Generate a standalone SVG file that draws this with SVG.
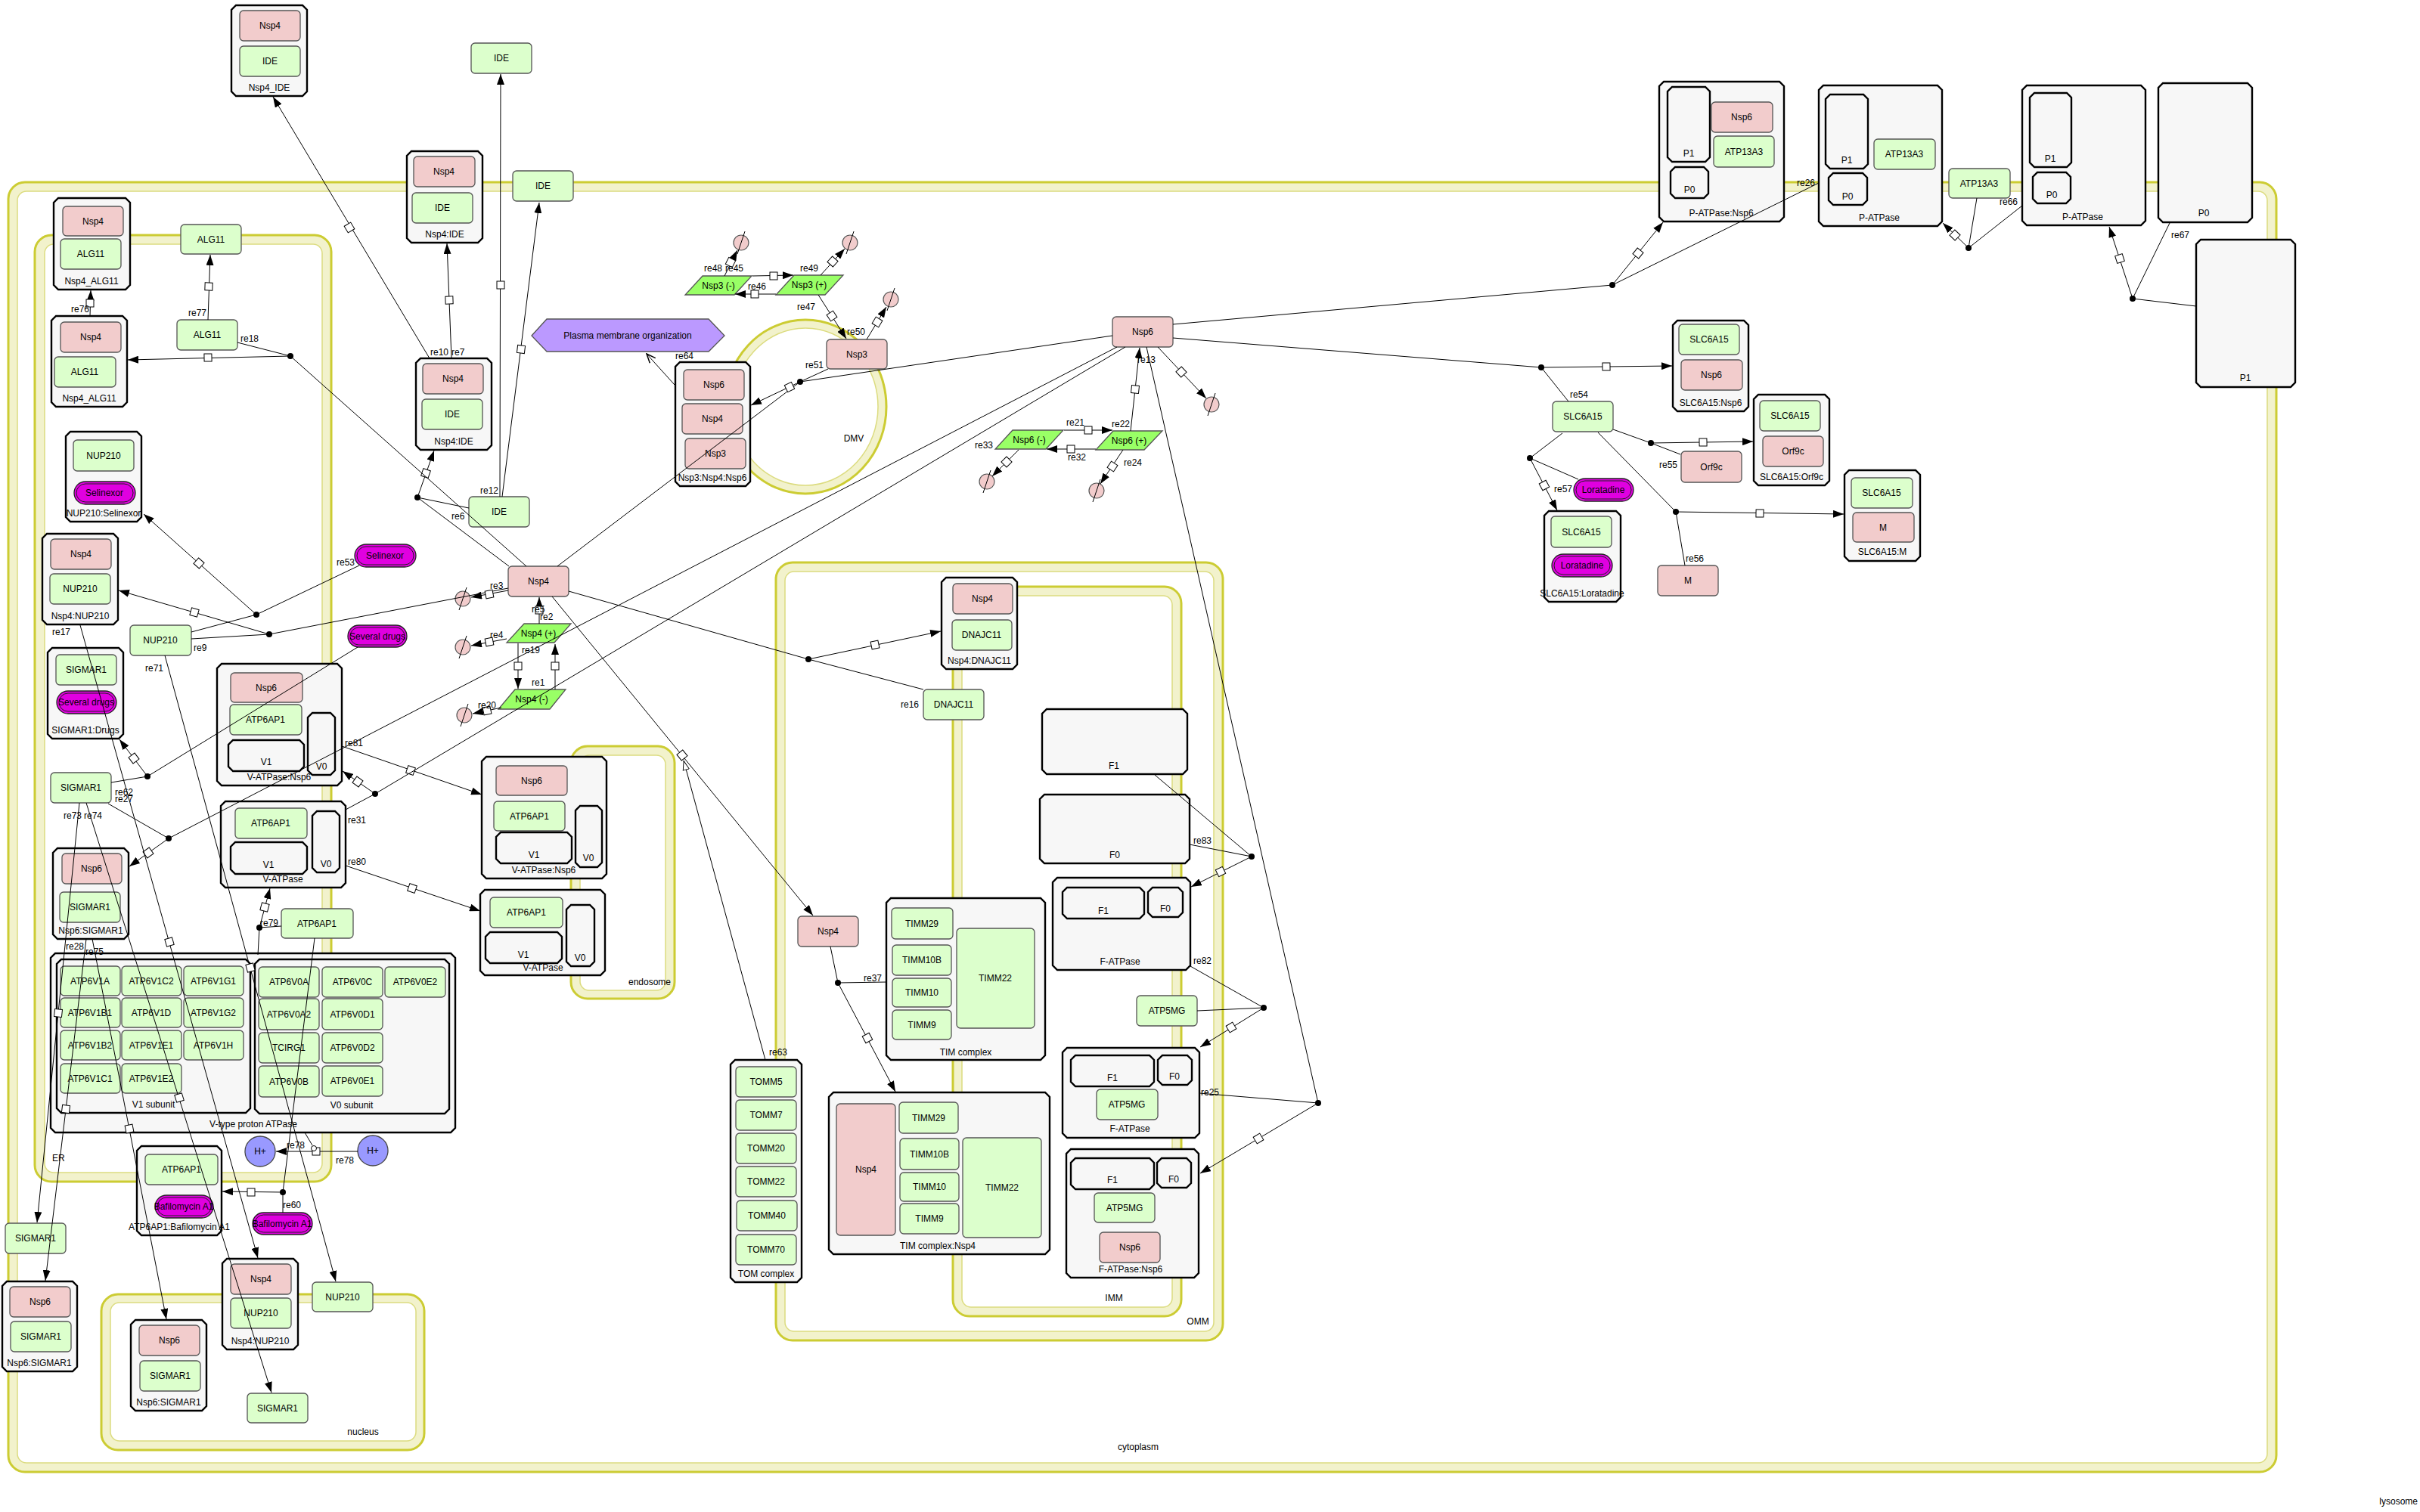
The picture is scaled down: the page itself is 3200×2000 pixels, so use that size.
<svg xmlns="http://www.w3.org/2000/svg" width="3200" height="2000" viewBox="0 0 3200 2000">
<style>
text{font-family:"Liberation Sans",Arial,sans-serif;font-size:12px;fill:#000;stroke:none}
.t{text-anchor:middle}
.co{fill:#f2f2cc;stroke:#cccc33;stroke-width:3}
.ci{fill:#fff;stroke:#dcdc80;stroke-width:1.5}
.cx{fill:#f7f7f7;stroke:#000;stroke-width:2.4}
.p{fill:#dcffcc;stroke:#555;stroke-width:1.3}
.v{fill:#f2cccc;stroke:#555;stroke-width:1.3}
.d{fill:#e000e0;stroke:#222;stroke-width:1.3}
.di{fill:none;stroke:#222;stroke-width:1}
.r{fill:#99ff66;stroke:#555;stroke-width:1.3}
.ph{fill:#bb99ff;stroke:#555;stroke-width:1.3}
.ion{fill:#9999ff;stroke:#444;stroke-width:1.3}
.dg{fill:#f2cccc;stroke:#555;stroke-width:1.2}
.sl{stroke:#000;stroke-width:1}
.dot{fill:#000;stroke:none}
</style>
<defs>
<marker id="ar" viewBox="0 0 14 10" refX="14" refY="5" markerWidth="14" markerHeight="10" markerUnits="userSpaceOnUse" orient="auto"><path d="M0,0L14,5L0,10z" fill="#000" stroke="none"/></marker>
<marker id="oa" viewBox="0 0 14 12" refX="13" refY="6" markerWidth="14" markerHeight="12" markerUnits="userSpaceOnUse" orient="auto"><path d="M1,1L13,6L1,11" fill="none" stroke="#000" stroke-width="1.5"/></marker>
<marker id="ht" viewBox="0 0 14 10" refX="14" refY="5" markerWidth="13" markerHeight="10" markerUnits="userSpaceOnUse" orient="auto"><path d="M0.5,0.5L13.5,5L0.5,9.5z" fill="#fff" stroke="#000" stroke-width="1"/></marker>
<rect id="sq" x="-5" y="-5" width="10" height="10" fill="#fff" stroke="#000" stroke-width="1"/>
</defs>
<rect width="3200" height="2000" fill="#fff"/>

<g id="compartments">
<g id="cytoplasm"><rect class="co" x="11" y="241" width="2999" height="1706" rx="22"/><rect class="ci" x="23" y="253" width="2975" height="1682" rx="12"/><text class="t" x="1505" y="1918">cytoplasm</text></g>
<g id="ER"><rect class="co" x="46" y="311" width="392" height="1252" rx="22"/><rect class="ci" x="59" y="323" width="367" height="1228" rx="12"/><text x="69" y="1536">ER</text></g>
<g id="nucleus"><rect class="co" x="134" y="1712" width="427" height="206" rx="22"/><rect class="ci" x="146" y="1723" width="404" height="183" rx="12"/><text class="t" x="480" y="1898">nucleus</text></g>
<g id="endosome"><rect class="co" x="755" y="987" width="137" height="334" rx="22"/><rect class="ci" x="767" y="999" width="113" height="311" rx="12"/><text class="t" x="859" y="1303">endosome</text></g>
<g id="OMM"><rect class="co" x="1026" y="744" width="591" height="1029" rx="22"/><rect class="ci" x="1038" y="756" width="567" height="1005" rx="12"/><text class="t" x="1584" y="1752">OMM</text></g>
<g id="IMM"><rect class="co" x="1260" y="776" width="302" height="965" rx="22"/><rect class="ci" x="1272" y="788" width="278" height="941" rx="12"/><text class="t" x="1473" y="1721">IMM</text></g>
<g id="DMV"><ellipse class="co" cx="1065" cy="538" rx="107" ry="115"/><ellipse class="ci" cx="1065" cy="538" rx="96" ry="104"/><text class="t" x="1129" y="584">DMV</text></g>
<text id="lysosome" x="3197" y="1990" text-anchor="end">lysosome</text>
</g>

<g id="nodes">
<g id="c_nsp4_ide"><path class="cx" d="M312,7h88l6,6v108l-6,6h-88l-6,-6v-108z"/><rect class="v" x="317" y="14" width="80" height="40" rx="5"/><text class="t" x="357" y="38">Nsp4</text><rect class="p" x="317" y="61" width="80" height="40" rx="5"/><text class="t" x="357" y="85">IDE</text><text class="t" x="356" y="120">Nsp4_IDE</text></g>
<g id="n_ide_top"><rect class="p" x="623" y="57" width="80" height="40" rx="5"/><text class="t" x="663" y="81">IDE</text></g>
<g id="c_nsp4ide_up"><path class="cx" d="M544,200h88l6,6v109l-6,6h-88l-6,-6v-109z"/><rect class="v" x="547" y="207" width="81" height="40" rx="5"/><text class="t" x="587" y="231">Nsp4</text><rect class="p" x="545" y="255" width="80" height="40" rx="5"/><text class="t" x="585" y="279">IDE</text><text class="t" x="588" y="314">Nsp4:IDE</text></g>
<g id="n_ide_right"><rect class="p" x="678" y="226" width="80" height="40" rx="5"/><text class="t" x="718" y="250">IDE</text></g>
<g id="c_nsp4alg11_up"><path class="cx" d="M77,262h89l6,6v109l-6,6h-89l-6,-6v-109z"/><rect class="v" x="83" y="273" width="80" height="39" rx="5"/><text class="t" x="123" y="297">Nsp4</text><rect class="p" x="80" y="316" width="80" height="40" rx="5"/><text class="t" x="120" y="340">ALG11</text><text class="t" x="121" y="376">Nsp4_ALG11</text></g>
<g id="n_alg11_top"><rect class="p" x="239" y="297" width="80" height="39" rx="5"/><text class="t" x="279" y="321">ALG11</text></g>
<g id="c_nsp4alg11_low"><path class="cx" d="M74,418h88l6,6v108l-6,6h-88l-6,-6v-108z"/><rect class="v" x="80" y="426" width="80" height="40" rx="5"/><text class="t" x="120" y="450">Nsp4</text><rect class="p" x="72" y="472" width="81" height="40" rx="5"/><text class="t" x="112" y="496">ALG11</text><text class="t" x="118" y="531">Nsp4_ALG11</text></g>
<g id="n_alg11_low"><rect class="p" x="234" y="423" width="80" height="40" rx="5"/><text class="t" x="274" y="447">ALG11</text></g>
<g id="c_nsp4ide_low"><path class="cx" d="M556,474h88l6,6v109l-6,6h-88l-6,-6v-109z"/><rect class="v" x="559" y="481" width="80" height="40" rx="5"/><text class="t" x="599" y="505">Nsp4</text><rect class="p" x="558" y="528" width="80" height="40" rx="5"/><text class="t" x="598" y="552">IDE</text><text class="t" x="600" y="588">Nsp4:IDE</text></g>
<g id="n_ide_low"><rect class="p" x="620" y="657" width="80" height="40" rx="5"/><text class="t" x="660" y="681">IDE</text></g>
<g id="c_nup210_selinexor"><path class="cx" d="M93,571h88l6,6v107l-6,6h-88l-6,-6v-107z"/><rect class="p" x="97" y="582" width="80" height="41" rx="5"/><text class="t" x="137" y="607">NUP210</text><rect class="d" x="98" y="637" width="81" height="30" rx="15"/><rect class="di" x="101" y="640" width="75" height="24" rx="12"/><text class="t" x="138" y="656">Selinexor</text><text class="t" x="137" y="683">NUP210:Selinexor</text></g>
<g id="c_nsp4_nup210"><path class="cx" d="M62,706h88l6,6v108l-6,6h-88l-6,-6v-108z"/><rect class="v" x="67" y="713" width="80" height="40" rx="5"/><text class="t" x="107" y="737">Nsp4</text><rect class="p" x="66" y="759" width="80" height="40" rx="5"/><text class="t" x="106" y="783">NUP210</text><text class="t" x="106" y="819">Nsp4:NUP210</text></g>
<g id="n_nup210"><rect class="p" x="172" y="827" width="81" height="40" rx="5"/><text class="t" x="212" y="851">NUP210</text></g>
<g id="n_selinexor"><rect class="d" x="469" y="720" width="81" height="30" rx="15"/><rect class="di" x="472" y="723" width="75" height="24" rx="12"/><text class="t" x="509" y="739">Selinexor</text></g>
<g id="n_several_drugs"><rect class="d" x="460" y="827" width="78" height="29" rx="14.5"/><rect class="di" x="463" y="830" width="72" height="23" rx="11.5"/><text class="t" x="499" y="846">Several drugs</text></g>
<g id="c_sigmar1_drugs"><path class="cx" d="M69,857h88l6,6v108l-6,6h-88l-6,-6v-108z"/><rect class="p" x="74" y="866" width="80" height="40" rx="5"/><text class="t" x="114" y="890">SIGMAR1</text><rect class="d" x="75" y="914" width="79" height="30" rx="15"/><rect class="di" x="78" y="917" width="73" height="24" rx="12"/><text class="t" x="114" y="933">Several drugs</text><text class="t" x="113" y="970">SIGMAR1:Drugs</text></g>
<g id="n_sigmar1"><rect class="p" x="67" y="1022" width="80" height="40" rx="5"/><text class="t" x="107" y="1046">SIGMAR1</text></g>
<g id="c_nsp6_sigmar1_a"><path class="cx" d="M76,1122h88l6,6v108l-6,6h-88l-6,-6v-108z"/><rect class="v" x="82" y="1129" width="79" height="40" rx="5"/><text class="t" x="121" y="1153">Nsp6</text><rect class="p" x="79" y="1180" width="80" height="40" rx="5"/><text class="t" x="119" y="1204">SIGMAR1</text><text class="t" x="120" y="1235">Nsp6:SIGMAR1</text></g>
<g id="c_vatpase_nsp6_a"><path class="cx" d="M293,878h153l6,6v149l-6,6h-153l-6,-6v-149z"/><rect class="v" x="305" y="890" width="95" height="39" rx="5"/><text class="t" x="352" y="914">Nsp6</text><rect class="p" x="304" y="932" width="95" height="40" rx="5"/><text class="t" x="351" y="956">ATP6AP1</text><path class="cx" d="M308,979h88l6,6v29l-6,6h-88l-6,-6v-29z"/><text class="t" x="352" y="1012">V1</text><path class="cx" d="M413,943h24l6,6v70l-6,6h-24l-6,-6v-70z"/><text class="t" x="425" y="1018">V0</text><text class="t" x="369" y="1032">V-ATPase:Nsp6</text></g>
<g id="c_vatpase_a"><path class="cx" d="M298,1060h153l6,6v102l-6,6h-153l-6,-6v-102z"/><rect class="p" x="311" y="1069" width="95" height="40" rx="5"/><text class="t" x="358" y="1093">ATP6AP1</text><path class="cx" d="M311,1114h89l6,6v30l-6,6h-89l-6,-6v-30z"/><text class="t" x="355" y="1148">V1</text><path class="cx" d="M419,1073h24l6,6v69l-6,6h-24l-6,-6v-69z"/><text class="t" x="431" y="1147">V0</text><text class="t" x="374" y="1167">V-ATPase</text></g>
<g id="c_vatpase_nsp6_b"><path class="cx" d="M643,1001h153l6,6v149l-6,6h-153l-6,-6v-149z"/><rect class="v" x="656" y="1013" width="94" height="39" rx="5"/><text class="t" x="703" y="1037">Nsp6</text><rect class="p" x="653" y="1060" width="94" height="39" rx="5"/><text class="t" x="700" y="1084">ATP6AP1</text><path class="cx" d="M662,1101h88l6,6v29l-6,6h-88l-6,-6v-29z"/><text class="t" x="706" y="1135">V1</text><path class="cx" d="M767,1066h23l6,6v69l-6,6h-23l-6,-6v-69z"/><text class="t" x="778" y="1139">V0</text><text class="t" x="719" y="1155">V-ATPase:Nsp6</text></g>
<g id="c_vatpase_b"><path class="cx" d="M641,1177h153l6,6v101l-6,6h-153l-6,-6v-101z"/><rect class="p" x="648" y="1187" width="96" height="40" rx="5"/><text class="t" x="696" y="1211">ATP6AP1</text><path class="cx" d="M648,1233h89l6,6v29l-6,6h-89l-6,-6v-29z"/><text class="t" x="692" y="1267">V1</text><path class="cx" d="M755,1197h25l6,6v69l-6,6h-25l-6,-6v-69z"/><text class="t" x="767" y="1271">V0</text><text class="t" x="718" y="1284">V-ATPase</text></g>
<g id="n_atp6ap1"><rect class="p" x="372" y="1202" width="95" height="39" rx="5"/><text class="t" x="419" y="1226">ATP6AP1</text></g>
<g id="c_vtype_atpase"><path class="cx" d="M73,1261h523l6,6v225l-6,6h-523l-6,-6v-225z"/>
<path class="cx" d="M81,1269h244l6,6v191l-6,6h-244l-6,-6v-191z"/>
<path class="cx" d="M343,1269h245l6,6v192l-6,6h-245l-6,-6v-192z"/>
<rect class="p" x="80" y="1278" width="79" height="39" rx="5"/><text class="t" x="119" y="1302">ATP6V1A</text>
<rect class="p" x="161" y="1278" width="79" height="39" rx="5"/><text class="t" x="200" y="1302">ATP6V1C2</text>
<rect class="p" x="243" y="1278" width="79" height="39" rx="5"/><text class="t" x="282" y="1302">ATP6V1G1</text>
<rect class="p" x="80" y="1320" width="79" height="39" rx="5"/><text class="t" x="119" y="1344">ATP6V1B1</text>
<rect class="p" x="161" y="1320" width="79" height="39" rx="5"/><text class="t" x="200" y="1344">ATP6V1D</text>
<rect class="p" x="243" y="1320" width="79" height="39" rx="5"/><text class="t" x="282" y="1344">ATP6V1G2</text>
<rect class="p" x="80" y="1363" width="79" height="39" rx="5"/><text class="t" x="119" y="1387">ATP6V1B2</text>
<rect class="p" x="161" y="1363" width="79" height="39" rx="5"/><text class="t" x="200" y="1387">ATP6V1E1</text>
<rect class="p" x="243" y="1363" width="79" height="39" rx="5"/><text class="t" x="282" y="1387">ATP6V1H</text>
<rect class="p" x="80" y="1407" width="79" height="39" rx="5"/><text class="t" x="119" y="1431">ATP6V1C1</text>
<rect class="p" x="161" y="1407" width="79" height="39" rx="5"/><text class="t" x="200" y="1431">ATP6V1E2</text>
<rect class="p" x="342" y="1279" width="80" height="40" rx="5"/><text class="t" x="382" y="1303">ATP6V0A</text>
<rect class="p" x="426" y="1279" width="80" height="40" rx="5"/><text class="t" x="466" y="1303">ATP6V0C</text>
<rect class="p" x="509" y="1279" width="80" height="40" rx="5"/><text class="t" x="549" y="1303">ATP6V0E2</text>
<rect class="p" x="342" y="1321" width="80" height="41" rx="5"/><text class="t" x="382" y="1346">ATP6V0A2</text>
<rect class="p" x="426" y="1321" width="80" height="41" rx="5"/><text class="t" x="466" y="1346">ATP6V0D1</text>
<rect class="p" x="342" y="1366" width="80" height="40" rx="5"/><text class="t" x="382" y="1390">TCIRG1</text>
<rect class="p" x="426" y="1366" width="80" height="40" rx="5"/><text class="t" x="466" y="1390">ATP6V0D2</text>
<rect class="p" x="342" y="1410" width="80" height="41" rx="5"/><text class="t" x="382" y="1435">ATP6V0B</text>
<rect class="p" x="426" y="1410" width="80" height="40" rx="5"/><text class="t" x="466" y="1434">ATP6V0E1</text>
<text class="t" x="203" y="1465">V1 subunit</text><text class="t" x="465" y="1466">V0 subunit</text><text class="t" x="335" y="1491">V-type proton ATPase</text></g>
<g id="c_atp6ap1_baf"><path class="cx" d="M187,1516h100l6,6v106l-6,6h-100l-6,-6v-106z"/><rect class="p" x="192" y="1527" width="96" height="40" rx="5"/><text class="t" x="240" y="1551">ATP6AP1</text><rect class="d" x="205" y="1581" width="77" height="30" rx="15"/><rect class="di" x="208" y="1584" width="71" height="24" rx="12"/><text class="t" x="243" y="1600">Bafilomycin A1</text><text class="t" x="237" y="1627">ATP6AP1:Bafilomycin A1</text></g>
<g id="n_bafilomycin"><rect class="d" x="334" y="1604" width="79" height="29" rx="14.5"/><rect class="di" x="337" y="1607" width="73" height="23" rx="11.5"/><text class="t" x="373" y="1623">Bafilomycin A1</text></g>
<g id="n_hplus_a"><circle class="ion" cx="344" cy="1523" r="20"/><text class="t" x="344" y="1527">H+</text></g>
<g id="n_hplus_b"><circle class="ion" cx="493" cy="1522" r="20"/><text class="t" x="493" y="1526">H+</text></g>
<g id="n_sigmar1_b"><rect class="p" x="7" y="1618" width="80" height="40" rx="5"/><text class="t" x="47" y="1642">SIGMAR1</text></g>
<g id="c_nsp6_sigmar1_b"><path class="cx" d="M9,1695h87l6,6v107l-6,6h-87l-6,-6v-107z"/><rect class="v" x="13" y="1702" width="80" height="40" rx="5"/><text class="t" x="53" y="1726">Nsp6</text><rect class="p" x="14" y="1748" width="80" height="40" rx="5"/><text class="t" x="54" y="1772">SIGMAR1</text><text class="t" x="52" y="1807">Nsp6:SIGMAR1</text></g>
<g id="c_nsp6_sigmar1_c"><path class="cx" d="M179,1746h88l6,6v108l-6,6h-88l-6,-6v-108z"/><rect class="v" x="184" y="1753" width="80" height="40" rx="5"/><text class="t" x="224" y="1777">Nsp6</text><rect class="p" x="185" y="1800" width="80" height="40" rx="5"/><text class="t" x="225" y="1824">SIGMAR1</text><text class="t" x="223" y="1859">Nsp6:SIGMAR1</text></g>
<g id="c_nsp4_nup210_b"><path class="cx" d="M300,1665h88l6,6v108l-6,6h-88l-6,-6v-108z"/><rect class="v" x="305" y="1672" width="80" height="40" rx="5"/><text class="t" x="345" y="1696">Nsp4</text><rect class="p" x="305" y="1717" width="80" height="40" rx="5"/><text class="t" x="345" y="1741">NUP210</text><text class="t" x="344" y="1778">Nsp4:NUP210</text></g>
<g id="n_nup210_b"><rect class="p" x="413" y="1696" width="80" height="39" rx="5"/><text class="t" x="453" y="1720">NUP210</text></g>
<g id="n_sigmar1_c"><rect class="p" x="327" y="1843" width="80" height="39" rx="5"/><text class="t" x="367" y="1867">SIGMAR1</text></g>

<g id="n_nsp4"><rect class="v" x="672" y="749" width="80" height="40" rx="5"/><text class="t" x="712" y="773">Nsp4</text></g>
<g id="n_nsp4_plus"><polygon class="r" points="693,825 755,825 733,850 670,850"/><text class="t" x="712" y="842">Nsp4 (+)</text></g>
<g id="n_nsp4_minus"><polygon class="r" points="681,912 748,912 727,938 659,938"/><text class="t" x="703" y="929">Nsp4 (-)</text></g>
<g id="n_pmo"><polygon class="ph" points="703,444 723,422 937,422 958,444 937,465 723,465"/><text class="t" x="830" y="448">Plasma membrane organization</text></g>
<g id="c_nsp3_nsp4_nsp6"><path class="cx" d="M899,479h87l6,6v152l-6,6h-87l-6,-6v-152z"/><rect class="v" x="904" y="489" width="80" height="40" rx="5"/><text class="t" x="944" y="513">Nsp6</text><rect class="v" x="902" y="534" width="80" height="40" rx="5"/><text class="t" x="942" y="558">Nsp4</text><rect class="v" x="906" y="580" width="80" height="40" rx="5"/><text class="t" x="946" y="604">Nsp3</text><text class="t" x="942" y="636">Nsp3:Nsp4:Nsp6</text></g>
<g id="n_nsp3_minus"><polygon class="r" points="929,365 994,365 971,390 906,390"/><text class="t" x="950" y="382">Nsp3 (-)</text></g>
<g id="n_nsp3_plus"><polygon class="r" points="1050,364 1115,364 1091,390 1026,390"/><text class="t" x="1070" y="381">Nsp3 (+)</text></g>
<g id="n_nsp3"><rect class="v" x="1093" y="449" width="80" height="39" rx="5"/><text class="t" x="1133" y="473">Nsp3</text></g>
<g id="n_nsp6"><rect class="v" x="1471" y="419" width="80" height="40" rx="5"/><text class="t" x="1511" y="443">Nsp6</text></g>
<g id="n_nsp6_minus"><polygon class="r" points="1339,569 1406,569 1383,594 1316,594"/><text class="t" x="1361" y="586">Nsp6 (-)</text></g>
<g id="n_nsp6_plus"><polygon class="r" points="1472,570 1537,570 1513,595 1449,595"/><text class="t" x="1493" y="587">Nsp6 (+)</text></g>
<g id="dg1"><circle class="dg" cx="980" cy="321" r="10"/><line class="sl" x1="975" y1="336" x2="985" y2="306"/></g>
<g id="dg2"><circle class="dg" cx="1124" cy="321" r="10"/><line class="sl" x1="1119" y1="336" x2="1129" y2="306"/></g>
<g id="dg3"><circle class="dg" cx="1178" cy="396" r="10"/><line class="sl" x1="1173" y1="411" x2="1183" y2="381"/></g>
<g id="dg4"><circle class="dg" cx="612" cy="792" r="10"/><line class="sl" x1="607" y1="807" x2="617" y2="777"/></g>
<g id="dg5"><circle class="dg" cx="612" cy="856" r="10"/><line class="sl" x1="607" y1="871" x2="617" y2="841"/></g>
<g id="dg6"><circle class="dg" cx="614" cy="946" r="10"/><line class="sl" x1="609" y1="961" x2="619" y2="931"/></g>
<g id="dg7"><circle class="dg" cx="1305" cy="637" r="10"/><line class="sl" x1="1300" y1="652" x2="1310" y2="622"/></g>
<g id="dg8"><circle class="dg" cx="1450" cy="649" r="10"/><line class="sl" x1="1445" y1="664" x2="1455" y2="634"/></g>
<g id="dg9"><circle class="dg" cx="1602" cy="535" r="10"/><line class="sl" x1="1597" y1="550" x2="1607" y2="520"/></g>
<g id="c_nsp4_dnajc11"><path class="cx" d="M1251,764h88l6,6v109l-6,6h-88l-6,-6v-109z"/><rect class="v" x="1260" y="772" width="79" height="40" rx="5"/><text class="t" x="1299" y="796">Nsp4</text><rect class="p" x="1259" y="820" width="79" height="40" rx="5"/><text class="t" x="1298" y="844">DNAJC11</text><text class="t" x="1295" y="878">Nsp4:DNAJC11</text></g>
<g id="n_dnajc11"><rect class="p" x="1221" y="912" width="80" height="40" rx="5"/><text class="t" x="1261" y="936">DNAJC11</text></g>
<g id="n_nsp4_omm"><rect class="v" x="1055" y="1212" width="80" height="40" rx="5"/><text class="t" x="1095" y="1236">Nsp4</text></g>
<g id="c_tom"><path class="cx" d="M972,1402h82l6,6v282l-6,6h-82l-6,-6v-282z"/>
<rect class="p" x="973" y="1411" width="80" height="40" rx="5"/><text class="t" x="1013" y="1435">TOMM5</text>
<rect class="p" x="973" y="1455" width="80" height="40" rx="5"/><text class="t" x="1013" y="1479">TOMM7</text>
<rect class="p" x="973" y="1499" width="80" height="40" rx="5"/><text class="t" x="1013" y="1523">TOMM20</text>
<rect class="p" x="973" y="1543" width="80" height="40" rx="5"/><text class="t" x="1013" y="1567">TOMM22</text>
<rect class="p" x="974" y="1588" width="80" height="40" rx="5"/><text class="t" x="1014" y="1612">TOMM40</text>
<rect class="p" x="973" y="1633" width="80" height="40" rx="5"/><text class="t" x="1013" y="1657">TOMM70</text>
<text class="t" x="1013" y="1689">TOM complex</text></g>
<g id="c_tim"><path class="cx" d="M1178,1188h198l6,6v202l-6,6h-198l-6,-6v-202z"/>
<rect class="p" x="1179" y="1201" width="81" height="41" rx="5"/><text class="t" x="1219" y="1226">TIMM29</text>
<rect class="p" x="1180" y="1250" width="78" height="40" rx="5"/><text class="t" x="1219" y="1274">TIMM10B</text>
<rect class="p" x="1180" y="1294" width="78" height="38" rx="5"/><text class="t" x="1219" y="1317">TIMM10</text>
<rect class="p" x="1180" y="1336" width="78" height="39" rx="5"/><text class="t" x="1219" y="1360">TIMM9</text>
<rect class="p" x="1265" y="1228" width="103" height="132" rx="5"/><text class="t" x="1316" y="1298">TIMM22</text>
<text class="t" x="1277" y="1396">TIM complex</text></g>
<g id="c_tim_nsp4"><path class="cx" d="M1102,1445h280l6,6v202l-6,6h-280l-6,-6v-202z"/>
<rect class="v" x="1106" y="1460" width="78" height="174" rx="5"/><text class="t" x="1145" y="1551">Nsp4</text>
<rect class="p" x="1189" y="1458" width="78" height="41" rx="5"/><text class="t" x="1228" y="1483">TIMM29</text>
<rect class="p" x="1190" y="1506" width="78" height="41" rx="5"/><text class="t" x="1229" y="1531">TIMM10B</text>
<rect class="p" x="1190" y="1551" width="78" height="38" rx="5"/><text class="t" x="1229" y="1574">TIMM10</text>
<rect class="p" x="1190" y="1592" width="78" height="40" rx="5"/><text class="t" x="1229" y="1616">TIMM9</text>
<rect class="p" x="1273" y="1505" width="104" height="132" rx="5"/><text class="t" x="1325" y="1575">TIMM22</text>
<text class="t" x="1240" y="1652">TIM complex:Nsp4</text></g>
<g id="c_f1"><path class="cx" d="M1384,938h180l6,6v74l-6,6h-180l-6,-6v-74z"/><text class="t" x="1473" y="1017">F1</text></g>
<g id="c_f0"><path class="cx" d="M1381,1051h186l6,6v79l-6,6h-186l-6,-6v-79z"/><text class="t" x="1474" y="1135">F0</text></g>
<g id="c_fatpase_a"><path class="cx" d="M1398,1161h170l6,6v110l-6,6h-170l-6,-6v-110z"/><path class="cx" d="M1411,1174h96l6,6v29l-6,6h-96l-6,-6v-29z"/><text class="t" x="1459" y="1209">F1</text><path class="cx" d="M1524,1174h34l6,6v27l-6,6h-34l-6,-6v-27z"/><text class="t" x="1541" y="1206">F0</text><text class="t" x="1481" y="1276">F-ATPase</text></g>
<g id="n_atp5mg"><rect class="p" x="1503" y="1317" width="80" height="40" rx="5"/><text class="t" x="1543" y="1341">ATP5MG</text></g>
<g id="c_fatpase_b"><path class="cx" d="M1411,1386h169l6,6v107l-6,6h-169l-6,-6v-107z"/><path class="cx" d="M1422,1396h98l6,6v29l-6,6h-98l-6,-6v-29z"/><text class="t" x="1471" y="1430">F1</text><path class="cx" d="M1537,1396h33l6,6v27l-6,6h-33l-6,-6v-27z"/><text class="t" x="1553" y="1428">F0</text><rect class="p" x="1450" y="1441" width="81" height="40" rx="5"/><text class="t" x="1490" y="1465">ATP5MG</text><text class="t" x="1494" y="1497">F-ATPase</text></g>
<g id="c_fatpase_nsp6"><path class="cx" d="M1416,1520h163l6,6v158l-6,6h-163l-6,-6v-158z"/><path class="cx" d="M1422,1532h98l6,6v29l-6,6h-98l-6,-6v-29z"/><text class="t" x="1471" y="1565">F1</text><path class="cx" d="M1536,1532h33l6,6v27l-6,6h-33l-6,-6v-27z"/><text class="t" x="1552" y="1564">F0</text><rect class="p" x="1447" y="1578" width="80" height="39" rx="5"/><text class="t" x="1487" y="1602">ATP5MG</text><rect class="v" x="1454" y="1630" width="80" height="40" rx="5"/><text class="t" x="1494" y="1654">Nsp6</text><text class="t" x="1495" y="1683">F-ATPase:Nsp6</text></g>
<g id="c_patpase_nsp6"><path class="cx" d="M2200,108h153l6,6v173l-6,6h-153l-6,-6v-173z"/><path class="cx" d="M2211,115h44l6,6v87l-6,6h-44l-6,-6v-87z"/><text class="t" x="2233" y="207">P1</text><path class="cx" d="M2215,221h38l6,6v29l-6,6h-38l-6,-6v-29z"/><text class="t" x="2234" y="255">P0</text><rect class="v" x="2263" y="135" width="81" height="40" rx="5"/><text class="t" x="2303" y="159">Nsp6</text><rect class="p" x="2266" y="180" width="80" height="41" rx="5"/><text class="t" x="2306" y="205">ATP13A3</text><text class="t" x="2276" y="286">P-ATPase:Nsp6</text></g>
<g id="c_patpase_a"><path class="cx" d="M2411,113h151l6,6v174l-6,6h-151l-6,-6v-174z"/><path class="cx" d="M2420,125h44l6,6v86l-6,6h-44l-6,-6v-86z"/><text class="t" x="2442" y="216">P1</text><path class="cx" d="M2424,229h39l6,6v30l-6,6h-39l-6,-6v-30z"/><text class="t" x="2443" y="264">P0</text><rect class="p" x="2478" y="184" width="81" height="40" rx="5"/><text class="t" x="2518" y="208">ATP13A3</text><text class="t" x="2485" y="292">P-ATPase</text></g>
<g id="n_atp13a3"><rect class="p" x="2577" y="223" width="81" height="39" rx="5"/><text class="t" x="2617" y="247">ATP13A3</text></g>
<g id="c_patpase_b"><path class="cx" d="M2680,113h151l6,6v173l-6,6h-151l-6,-6v-173z"/><path class="cx" d="M2690,123h43l6,6v86l-6,6h-43l-6,-6v-86z"/><text class="t" x="2711" y="214">P1</text><path class="cx" d="M2694,228h38l6,6v29l-6,6h-38l-6,-6v-29z"/><text class="t" x="2713" y="262">P0</text><text class="t" x="2754" y="291">P-ATPase</text></g>
<g id="c_p0"><path class="cx" d="M2860,110h112l6,6v172l-6,6h-112l-6,-6v-172z"/><text class="t" x="2914" y="286">P0</text></g>
<g id="c_p1"><path class="cx" d="M2910,317h119l6,6v183l-6,6h-119l-6,-6v-183z"/><text class="t" x="2969" y="504">P1</text></g>
<g id="c_slc_nsp6"><path class="cx" d="M2218,424h88l6,6v108l-6,6h-88l-6,-6v-108z"/><rect class="p" x="2220" y="429" width="80" height="40" rx="5"/><text class="t" x="2260" y="453">SLC6A15</text><rect class="v" x="2223" y="476" width="81" height="40" rx="5"/><text class="t" x="2263" y="500">Nsp6</text><text class="t" x="2262" y="537">SLC6A15:Nsp6</text></g>
<g id="n_slc6a15"><rect class="p" x="2053" y="531" width="80" height="40" rx="5"/><text class="t" x="2093" y="555">SLC6A15</text></g>
<g id="n_orf9c"><rect class="v" x="2223" y="597" width="80" height="41" rx="5"/><text class="t" x="2263" y="622">Orf9c</text></g>
<g id="c_slc_orf9c"><path class="cx" d="M2325,522h88l6,6v108l-6,6h-88l-6,-6v-108z"/><rect class="p" x="2327" y="530" width="80" height="40" rx="5"/><text class="t" x="2367" y="554">SLC6A15</text><rect class="v" x="2331" y="577" width="80" height="40" rx="5"/><text class="t" x="2371" y="601">Orf9c</text><text class="t" x="2369" y="635">SLC6A15:Orf9c</text></g>
<g id="n_loratadine"><rect class="d" x="2081" y="633" width="79" height="30" rx="15"/><rect class="di" x="2084" y="636" width="73" height="24" rx="12"/><text class="t" x="2120" y="652">Loratadine</text></g>
<g id="c_slc_lor"><path class="cx" d="M2048,676h89l6,6v108l-6,6h-89l-6,-6v-108z"/><rect class="p" x="2051" y="683" width="80" height="41" rx="5"/><text class="t" x="2091" y="708">SLC6A15</text><rect class="d" x="2052" y="733" width="80" height="30" rx="15"/><rect class="di" x="2055" y="736" width="74" height="24" rx="12"/><text class="t" x="2092" y="752">Loratadine</text><text class="t" x="2092" y="789">SLC6A15:Loratadine</text></g>
<g id="n_m"><rect class="v" x="2192" y="748" width="80" height="40" rx="5"/><text class="t" x="2232" y="772">M</text></g>
<g id="c_slc_m"><path class="cx" d="M2445,622h88l6,6v108l-6,6h-88l-6,-6v-108z"/><rect class="p" x="2448" y="632" width="81" height="40" rx="5"/><text class="t" x="2488" y="656">SLC6A15</text><rect class="v" x="2450" y="678" width="81" height="39" rx="5"/><text class="t" x="2490" y="702">M</text><text class="t" x="2489" y="734">SLC6A15:M</text></g>
</g>

<g id="connectors" fill="none" stroke="#000" stroke-width="1">
<path d="M568,474L361,128" marker-end="url(#ar)"/><use href="#sq" transform="translate(462,301) rotate(-121)"/>
<path d="M597,474L591,322" marker-end="url(#ar)"/><use href="#sq" transform="translate(594,397) rotate(-92)"/>
<path d="M661,657L662,98" marker-end="url(#ar)"/><use href="#sq" transform="translate(662,377)"/>
<path d="M664,657L713,268" marker-end="url(#ar)"/><use href="#sq" transform="translate(689,462) rotate(-83)"/>
<path d="M620,672L552,658M673,749L552,658M552,658L574,596" marker-end="url(#ar)"/><use href="#sq" transform="translate(563,626) rotate(-71)"/><circle class="dot" cx="552" cy="658" r="4"/>
<path d="M314,453L384,471M696,749L384,471M384,471L169,476" marker-end="url(#ar)"/><use href="#sq" transform="translate(275,473) rotate(179)"/><circle class="dot" cx="384" cy="471" r="4"/>
<path d="M119,418L120,384" marker-end="url(#ar)"/><use href="#sq" transform="translate(119,401)"/>
<path d="M275,423L278,337" marker-end="url(#ar)"/><use href="#sq" transform="translate(276,379) rotate(-88)"/>
<path d="M253,836L339,813M475,748L339,813M339,813L190,680" marker-end="url(#ar)"/><use href="#sq" transform="translate(263,745) rotate(-138)"/><circle class="dot" cx="339" cy="813" r="4"/>
<path d="M253,845L356,839M672,778L356,839M356,839L157,781" marker-end="url(#ar)"/><use href="#sq" transform="translate(257,810) rotate(-164)"/><circle class="dot" cx="356" cy="839" r="4"/>
<path d="M672,781L623,790" marker-end="url(#ar)"/><use href="#sq" transform="translate(647,786) rotate(169)"/>
<path d="M713,825L713,790" marker-end="url(#ar)"/><use href="#sq" transform="translate(713,807)"/>
<path d="M670,845L623,854" marker-end="url(#ar)"/><use href="#sq" transform="translate(647,849) rotate(169)"/>
<path d="M685,851L685,911" marker-end="url(#ar)"/><use href="#sq" transform="translate(685,881)"/>
<path d="M734,912L734,852" marker-end="url(#ar)"/><use href="#sq" transform="translate(734,881)"/>
<path d="M663,936L625,944" marker-end="url(#ar)"/><use href="#sq" transform="translate(644,940) rotate(168)"/>
<path d="M1095,488L1058,505M1471,444L1058,505M737,749L1058,505M1058,505L993,536" marker-end="url(#ar)"/><use href="#sq" transform="translate(1044,512) rotate(154)"/><circle class="dot" cx="1058" cy="505" r="4"/>
<path d="M892,509L855,468" marker-end="url(#oa)"/>
<path d="M995,365L1049,364" marker-end="url(#ar)"/><use href="#sq" transform="translate(1023,365)"/>
<path d="M1026,389L972,389" marker-end="url(#ar)"/><use href="#sq" transform="translate(998,389)"/>
<path d="M958,365L975,331" marker-end="url(#ar)"/><use href="#sq" transform="translate(966,347) rotate(-64)"/>
<path d="M1085,364L1117,329" marker-end="url(#ar)"/><use href="#sq" transform="translate(1101,346) rotate(-48)"/>
<path d="M1082,390L1119,448" marker-end="url(#ar)"/><use href="#sq" transform="translate(1100,418) rotate(57)"/>
<path d="M1146,449L1172,406" marker-end="url(#ar)"/><use href="#sq" transform="translate(1160,426) rotate(-59)"/>
<path d="M1495,570L1507,460" marker-end="url(#ar)"/><use href="#sq" transform="translate(1501,515) rotate(-84)"/>
<path d="M1407,569L1471,569" marker-end="url(#ar)"/><use href="#sq" transform="translate(1439,569)"/>
<path d="M1449,594L1384,594" marker-end="url(#ar)"/><use href="#sq" transform="translate(1416,594)"/>
<path d="M1347,595L1312,630" marker-end="url(#ar)"/><use href="#sq" transform="translate(1331,611) rotate(135)"/>
<path d="M1485,595L1455,640" marker-end="url(#ar)"/><use href="#sq" transform="translate(1471,617) rotate(123)"/>
<path d="M1531,459L1595,527" marker-end="url(#ar)"/><use href="#sq" transform="translate(1562,492) rotate(47)"/>
<path d="M1516,459L1743,1459M1586,1446L1743,1459M1743,1459L1587,1552" marker-end="url(#ar)"/><use href="#sq" transform="translate(1664,1506) rotate(149)"/><circle class="dot" cx="1743" cy="1459" r="4"/>
<path d="M1527,1025L1655,1133M1573,1117L1655,1133M1655,1133L1575,1173" marker-end="url(#ar)"/><use href="#sq" transform="translate(1614,1153) rotate(154)"/><circle class="dot" cx="1655" cy="1133" r="4"/>
<path d="M1574,1278L1671,1333M1583,1337L1671,1333M1671,1333L1587,1385" marker-end="url(#ar)"/><use href="#sq" transform="translate(1628,1359) rotate(149)"/><circle class="dot" cx="1671" cy="1333" r="4"/>
<path d="M752,782L1069,872M1221,912L1069,872M1069,872L1244,835" marker-end="url(#ar)"/><use href="#sq" transform="translate(1157,853) rotate(-12)"/><circle class="dot" cx="1069" cy="872" r="4"/>
<path d="M730,789L1075,1211" marker-end="url(#ar)"/><use href="#sq" transform="translate(902,999) rotate(51)"/>
<path d="M1012,1402L904,1006" marker-end="url(#ht)"/>
<path d="M1098,1252L1108,1300M1172,1299L1108,1300M1108,1300L1184,1444" marker-end="url(#ar)"/><use href="#sq" transform="translate(1147,1373) rotate(62)"/><circle class="dot" cx="1108" cy="1300" r="4"/>
<path d="M1551,429L2132,377M2405,242L2132,377M2132,377L2199,294" marker-end="url(#ar)"/><use href="#sq" transform="translate(2166,335) rotate(-51)"/><circle class="dot" cx="2132" cy="377" r="4"/>
<path d="M1551,447L2038,486M2074,531L2038,486M2038,486L2211,484" marker-end="url(#ar)"/><use href="#sq" transform="translate(2124,485) rotate(-1)"/><circle class="dot" cx="2038" cy="486" r="4"/>
<path d="M2133,568L2183,586M2222,601L2183,586M2183,586L2318,584" marker-end="url(#ar)"/><use href="#sq" transform="translate(2252,585) rotate(-1)"/><circle class="dot" cx="2183" cy="586" r="4"/>
<path d="M2066,573L2023,606M2087,634L2023,606M2023,606L2059,675" marker-end="url(#ar)"/><use href="#sq" transform="translate(2042,642) rotate(62)"/><circle class="dot" cx="2023" cy="606" r="4"/>
<path d="M2113,572L2216,677M2228,748L2216,677M2216,677L2438,680" marker-end="url(#ar)"/><use href="#sq" transform="translate(2327,679) rotate(1)"/><circle class="dot" cx="2216" cy="677" r="4"/>
<path d="M2614,262L2603,328M2674,272L2603,328M2603,328L2569,295" marker-end="url(#ar)"/><use href="#sq" transform="translate(2585,311) rotate(-136)"/><circle class="dot" cx="2603" cy="328" r="4"/>
<path d="M2869,295L2820,395M2904,405L2820,395M2820,395L2789,300" marker-end="url(#ar)"/><use href="#sq" transform="translate(2803,342) rotate(-108)"/><circle class="dot" cx="2820" cy="395" r="4"/>
<path d="M452,987L637,1051" marker-end="url(#ar)"/><use href="#sq" transform="translate(543,1019) rotate(19)"/>
<path d="M457,1071L496,1050M1488,459L496,1050M496,1050L453,1020" marker-end="url(#ar)"/><use href="#sq" transform="translate(473,1034) rotate(-144)"/><circle class="dot" cx="496" cy="1050" r="4"/>
<path d="M457,1145L635,1205" marker-end="url(#ar)"/><use href="#sq" transform="translate(545,1175) rotate(19)"/>
<path d="M372,1225L343,1227M341,1263L343,1227M343,1227L357,1175" marker-end="url(#ar)"/><use href="#sq" transform="translate(350,1200) rotate(-75)"/><circle class="dot" cx="343" cy="1227" r="4"/>
<path d="M147,1035L195,1027M473,856L195,1027M195,1027L158,978" marker-end="url(#ar)"/><use href="#sq" transform="translate(177,1003) rotate(-127)"/><circle class="dot" cx="195" cy="1027" r="4"/>
<path d="M143,1063L223,1109M1477,459L223,1109M223,1109L171,1146" marker-end="url(#ar)"/><use href="#sq" transform="translate(196,1128) rotate(145)"/><circle class="dot" cx="223" cy="1109" r="4"/>
<path d="M106,827L341,1664" marker-end="url(#ar)"/><use href="#sq" transform="translate(224,1246) rotate(74)"/>
<path d="M218,867L444,1695" marker-end="url(#ar)"/><use href="#sq" transform="translate(331,1280) rotate(75)"/>
<path d="M105,1062L49,1617" marker-end="url(#ar)"/><use href="#sq" transform="translate(77,1340) rotate(96)"/>
<path d="M114,1062L359,1842" marker-end="url(#ar)"/><use href="#sq" transform="translate(237,1452) rotate(73)"/>
<path d="M114,1242L60,1694" marker-end="url(#ar)"/><use href="#sq" transform="translate(87,1467) rotate(97)"/>
<path d="M122,1242L220,1745" marker-end="url(#ar)"/><use href="#sq" transform="translate(171,1493) rotate(79)"/>
<path d="M416,1241L374,1577M374,1604L374,1577M374,1577L294,1576" marker-end="url(#ar)"/><use href="#sq" transform="translate(332,1577)"/><circle class="dot" cx="374" cy="1577" r="4"/>
<path d="M473,1523L365,1523" marker-end="url(#ar)"/><use href="#sq" transform="translate(418,1523)"/>
<path d="M403,1498L413,1515"/><circle cx="415" cy="1519" r="3.5" fill="#fff" stroke="#000"/>
<text x="94" y="413">re76</text><text x="249" y="418">re77</text><text x="318" y="452">re18</text>
<text x="569" y="470">re10</text><text x="597" y="470">re7</text>
<text x="635" y="653">re12</text><text x="597" y="687">re6</text>
<text x="893" y="475">re64</text><text x="931" y="359">re48</text><text x="959" y="359">re45</text>
<text x="989" y="383">re46</text><text x="1058" y="359">re49</text><text x="1054" y="410">re47</text>
<text x="1120" y="443">re50</text><text x="1065" y="487">re51</text><text x="1504" y="480">re13</text>
<text x="1410" y="563">re21</text><text x="1470" y="565">re22</text><text x="1289" y="593">re33</text>
<text x="1412" y="609">re32</text><text x="1486" y="616">re24</text><text x="2376" y="246">re26</text>
<text x="2076" y="526">re54</text><text x="2194" y="619">re55</text><text x="2055" y="651">re57</text>
<text x="2229" y="743">re56</text><text x="2644" y="271">re66</text><text x="2871" y="315">re67</text>
<text x="445" y="748">re53</text><text x="648" y="779">re3</text><text x="703" y="810">re5</text><text x="714" y="820">re2</text>
<text x="648" y="844">re4</text><text x="690" y="864">re19</text><text x="703" y="907">re1</text>
<text x="632" y="937">re20</text><text x="69" y="840">re17</text><text x="256" y="861">re9</text>
<text x="192" y="888">re71</text><text x="152" y="1052">re62</text><text x="152" y="1061">re27</text>
<text x="84" y="1083">re73</text><text x="111" y="1083">re74</text>
<text x="456" y="987">re81</text><text x="460" y="1089">re31</text><text x="460" y="1144">re80</text>
<text x="344" y="1225">re79</text><text x="87" y="1256">re28</text><text x="113" y="1263">re75</text>
<text x="379" y="1519">re78</text><text x="444" y="1539">re78</text><text x="374" y="1598">re60</text>
<text x="1191" y="936">re16</text><text x="1142" y="1298">re37</text><text x="1017" y="1396">re63</text>
<text x="1578" y="1116">re83</text><text x="1578" y="1275">re82</text><text x="1588" y="1449">re25</text>
</g>
</svg>
